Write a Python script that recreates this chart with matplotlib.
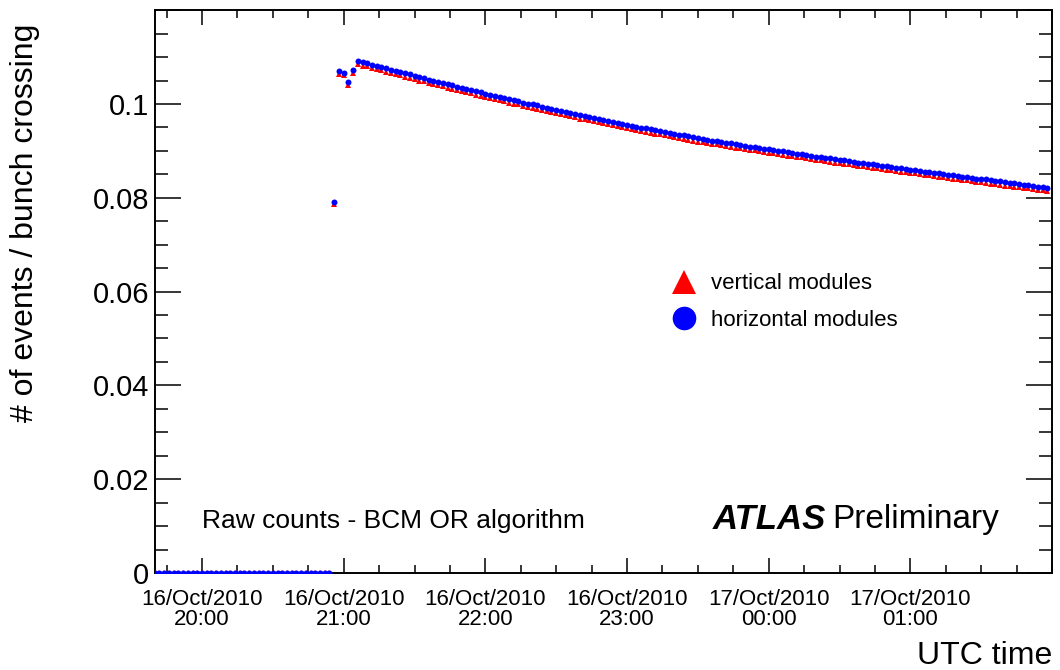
import numpy as np
import pandas as pd
import matplotlib
matplotlib.use('Agg')
import matplotlib.pyplot as plt
import matplotlib.dates as mdates
from matplotlib.lines import Line2D
from matplotlib.ticker import MultipleLocator, FuncFormatter

plt.rcParams['font.family'] = ['Liberation Sans', 'DejaVu Sans']

# ------------------ data (2 min sampling, UTC) -----------------------
times = pd.date_range('2010-10-16 19:40', '2010-10-17 01:58', freq='2min')

zeros_blue = [0.0, 0.0, 0.0, 0.0, 0.0, 0.0, 0.0, 0.0, 0.0, 0.0, 0.0, 0.0, 0.0,
              0.0, 0.0, 0.0, 0.0, 0.0, 0.0, 0.0, 0.0, 0.0, 0.0, 0.0, 0.0, 0.0,
              0.0, 0.0, 0.0, 0.0, 0.0, 0.0, 0.0, 0.0, 0.0, 0.0, 0.0, 0.0]
zeros_red = list(zeros_blue)

ramp_blue = [0.0792, 0.1070, 0.1067, 0.1047, 0.1072]
ramp_red = [0.0786, 0.1064, 0.1061, 0.1041, 0.1066]

decay_blue = [
    0.1092, 0.1089, 0.1087, 0.1084, 0.1081, 0.1079, 0.1076, 0.1073, 0.1071, 0.1068, 0.1065, 0.1063, 0.1060,
    0.1057, 0.1055, 0.1052, 0.1050, 0.1047, 0.1045, 0.1042, 0.1040, 0.1037, 0.1035, 0.1032, 0.1030, 0.1027, 0.1025, 0.1022,
    0.1020, 0.1017, 0.1015, 0.1013, 0.1010, 0.1008, 0.1006, 0.1003, 0.1001, 0.0999, 0.0997, 0.0994, 0.0992, 0.0990, 0.0987,
    0.0985, 0.0983, 0.0981, 0.0979, 0.0976, 0.0974, 0.0972, 0.0970, 0.0968, 0.0966, 0.0964, 0.0962, 0.0959, 0.0957, 0.0955,
    0.0953, 0.0951, 0.0949, 0.0948, 0.0946, 0.0944, 0.0942, 0.0940, 0.0938, 0.0936, 0.0934, 0.0933, 0.0931, 0.0929, 0.0927,
    0.0925, 0.0924, 0.0922, 0.0921, 0.0919, 0.0917, 0.0916, 0.0914, 0.0913, 0.0911, 0.0909, 0.0908, 0.0906, 0.0905, 0.0903,
    0.0902, 0.0900, 0.0899, 0.0897, 0.0896, 0.0894, 0.0893, 0.0891, 0.0890, 0.0888, 0.0887, 0.0885, 0.0884, 0.0882, 0.0881,
    0.0880, 0.0878, 0.0877, 0.0875, 0.0874, 0.0873, 0.0871, 0.0870, 0.0868, 0.0867, 0.0866, 0.0864, 0.0863, 0.0861, 0.0860,
    0.0859, 0.0857, 0.0856, 0.0855, 0.0853, 0.0852, 0.0851, 0.0849, 0.0848, 0.0847, 0.0845, 0.0844, 0.0843, 0.0841, 0.0840,
    0.0839, 0.0837, 0.0836, 0.0835, 0.0833, 0.0832, 0.0831, 0.0829, 0.0828, 0.0827, 0.0825, 0.0824, 0.0823, 0.0821]

decay_red = [
    0.1085, 0.1082, 0.1080, 0.1077, 0.1074, 0.1072, 0.1069, 0.1066, 0.1064, 0.1061, 0.1058, 0.1056, 0.1053,
    0.1050, 0.1048, 0.1045, 0.1043, 0.1040, 0.1038, 0.1035, 0.1033, 0.1030, 0.1028, 0.1025, 0.1023, 0.1020, 0.1018, 0.1015,
    0.1013, 0.1010, 0.1008, 0.1006, 0.1003, 0.1001, 0.0999, 0.0996, 0.0994, 0.0992, 0.0990, 0.0987, 0.0985, 0.0983, 0.0980,
    0.0978, 0.0976, 0.0974, 0.0972, 0.0969, 0.0967, 0.0965, 0.0963, 0.0961, 0.0959, 0.0957, 0.0955, 0.0952, 0.0950, 0.0948,
    0.0946, 0.0944, 0.0942, 0.0941, 0.0939, 0.0937, 0.0935, 0.0933, 0.0931, 0.0929, 0.0927, 0.0926, 0.0924, 0.0922, 0.0920,
    0.0918, 0.0917, 0.0915, 0.0914, 0.0912, 0.0910, 0.0909, 0.0907, 0.0906, 0.0904, 0.0902, 0.0901, 0.0899, 0.0898, 0.0896,
    0.0895, 0.0893, 0.0892, 0.0890, 0.0889, 0.0887, 0.0886, 0.0884, 0.0883, 0.0881, 0.0880, 0.0878, 0.0877, 0.0875, 0.0874,
    0.0873, 0.0871, 0.0870, 0.0868, 0.0867, 0.0866, 0.0864, 0.0863, 0.0861, 0.0860, 0.0859, 0.0857, 0.0856, 0.0854, 0.0853,
    0.0852, 0.0850, 0.0849, 0.0848, 0.0846, 0.0845, 0.0844, 0.0842, 0.0841, 0.0840, 0.0838, 0.0837, 0.0836, 0.0834, 0.0833,
    0.0832, 0.0830, 0.0829, 0.0828, 0.0826, 0.0825, 0.0824, 0.0822, 0.0821, 0.0820, 0.0818, 0.0817, 0.0816, 0.0814]

vertical = np.array(zeros_red + ramp_red + decay_red)
horizontal = np.array(zeros_blue + ramp_blue + decay_blue)

hour_ticks = pd.date_range('2010-10-16 20:00', '2010-10-17 01:00', freq='1h')

# ------------------ plot -----------------------
fig = plt.figure(figsize=(10.6, 6.7), dpi=100)
ax = fig.add_axes([0.146, 0.1448, 0.8465, 0.840])

ax.plot(times, vertical, '^', color='#ff0000', markersize=4.5, markeredgewidth=0, zorder=3)
ax.plot(times, horizontal, 'o', color='#0000ff', markersize=4.3, markeredgewidth=0, zorder=4)

ax.set_xlim(pd.Timestamp('2010-10-16 19:40'), pd.Timestamp('2010-10-17 02:00'))
ax.set_ylim(0, 0.12)

ax.set_xticks(hour_ticks)
ax.xaxis.set_minor_locator(mdates.MinuteLocator(byminute=[0, 15, 30, 45]))
ax.xaxis.set_major_formatter(mdates.DateFormatter('%d/%b/%Y\n%H:%M'))
ax.yaxis.set_major_locator(MultipleLocator(0.02))
ax.yaxis.set_minor_locator(MultipleLocator(0.005))
ax.yaxis.set_major_formatter(FuncFormatter(lambda v, p: '' if v > 0.11 else '%g' % round(v, 4)))

for s in ax.spines.values():
    s.set_linewidth(1.4)

ax.tick_params(axis='x', which='both', direction='in', top=True, width=1.1)
ax.tick_params(axis='x', which='major', length=11, labelsize=16, pad=11.5)
ax.tick_params(axis='x', which='minor', length=5.5)
ax.tick_params(axis='y', which='both', direction='in', right=True, width=1.1)
ax.tick_params(axis='y', which='major', length=19, labelsize=21, pad=4)
ax.tick_params(axis='y', which='minor', length=9.5)
for lab in ax.get_xticklabels():
    lab.set_linespacing(0.95)

ax.set_ylabel('# of events / bunch crossing', fontsize=23)
ax.yaxis.set_label_coords(-0.128, 0.6226)
ax.set_xlabel('UTC time', fontsize=23, loc='right')
ax.xaxis.set_label_coords(1.0, -0.12)

ax.text(0.053, 0.092, 'Raw counts - BCM OR algorithm', transform=ax.transAxes,
        fontsize=19, va='center', ha='left')
ax.text(0.622, 0.095, 'ATLAS', transform=ax.transAxes, fontsize=25,
        fontweight='bold', style='italic', va='center', ha='left')
ax.text(0.755, 0.095, 'Preliminary', transform=ax.transAxes, fontsize=24,
        va='center', ha='left')

handles = [Line2D([], [], linestyle='none', marker='^', color='#ff0000', markersize=17, markeredgewidth=0),
           Line2D([], [], linestyle='none', marker='o', color='#0000ff', markersize=17, markeredgewidth=0)]
ax.legend(handles, ['vertical modules', 'horizontal modules'], loc='upper left',
          bbox_to_anchor=(0.56, 0.56), frameon=False, fontsize=16,
          handlelength=1.0, handletextpad=0.7, labelspacing=0.7, borderpad=0.2)

fig.savefig('out.png', dpi=100)
